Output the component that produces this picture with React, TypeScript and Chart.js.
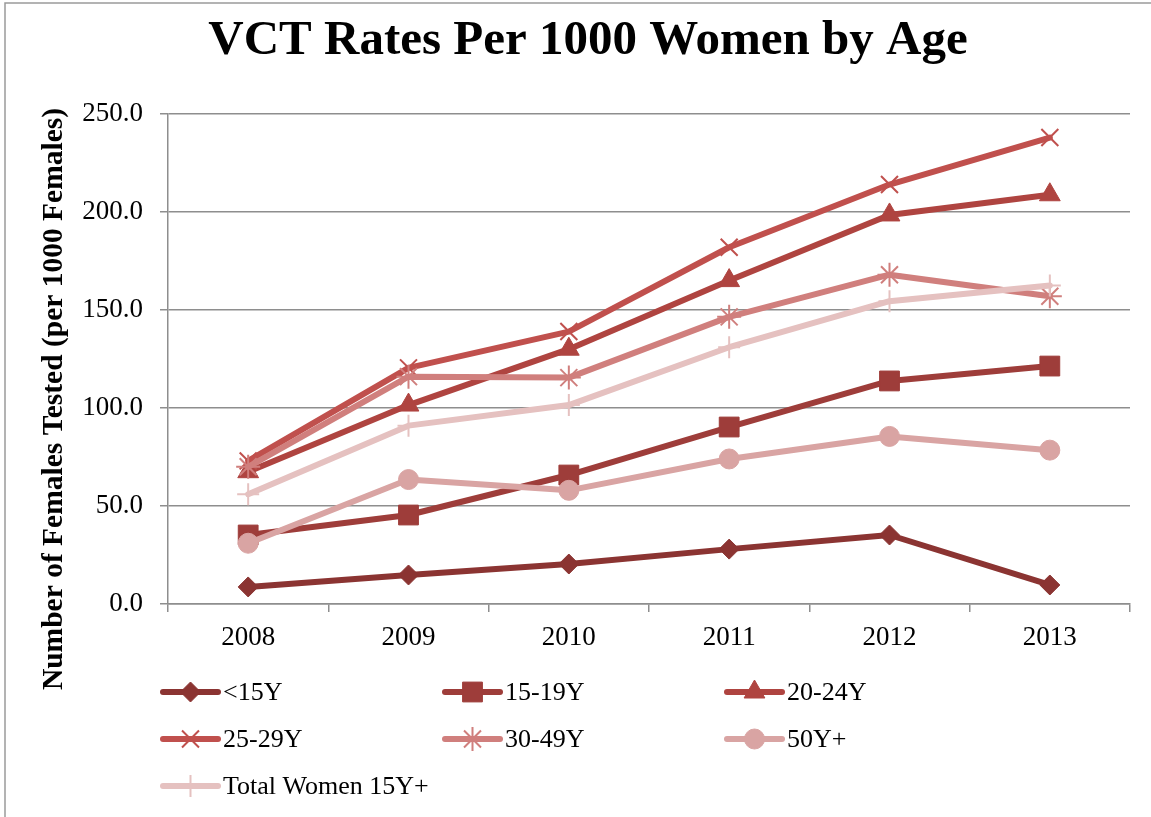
import React, { useEffect, useRef } from "react";
import { Chart, registerables } from "chart.js";
import { drawPoint } from "chart.js/helpers";

Chart.register(...registerables);

const years = ["2008", "2009", "2010", "2011", "2012", "2013"];
const under15 = [8.7, 14.8, 20.4, 28.0, 35.2, 9.7];
const age15to19 = [35.2, 45.4, 65.8, 90.3, 113.8, 121.4];
const age20to24 = [67.5, 101.5, 130.0, 165.0, 198.5, 208.8];
const age25to29 = [73.0, 120.5, 139.0, 182.0, 214.0, 238.0];
const age30to49 = [70.0, 116.0, 115.5, 146.5, 168.0, 157.0];
const age50plus = [31.0, 63.5, 58.0, 74.0, 85.5, 78.5];
const totalWomen = [56.0, 91.0, 101.5, 131.0, 154.5, 162.5];
const seriesLabels = ["<15Y", "15-19Y", "20-24Y", "25-29Y", "30-49Y", "50Y+", "Total Women 15Y+"];
const yTicks = [0, 50, 100, 150, 200, 250];

const colors = ["#8B3432", "#9E3D3A", "#AF4440", "#C0504D", "#D07F7D", "#D9A4A3", "#E5C1C0"];
const styles = ["rectRot", "rect", "triangle", "crossRot", "star", "circle", "cross"];
const radii = [10, 14, 12, 12, 12, 10, 11];

const SERIF = '"Liberation Serif", "Times New Roman", serif';

const decorPlugin = {
  id: "decor",
  afterDraw(chart: any) {
    const ctx = chart.ctx;
    ctx.save();
    // outer frame
    ctx.strokeStyle = "#9a9a9a";
    ctx.lineWidth = 1.5;
    ctx.beginPath();
    ctx.moveTo(5, 817);
    ctx.lineTo(5, 3);
    ctx.lineTo(1151, 3);
    ctx.stroke();
    // title
    ctx.fillStyle = "#000";
    ctx.font = `bold 49px ${SERIF}`;
    ctx.textAlign = "center";
    ctx.textBaseline = "alphabetic";
    ctx.fillText("VCT Rates Per 1000 Women by Age", 588, 54);
    // y-axis title
    ctx.save();
    ctx.translate(54, 399);
    ctx.rotate(-Math.PI / 2);
    ctx.font = `bold 29.5px ${SERIF}`;
    ctx.textAlign = "center";
    ctx.textBaseline = "middle";
    ctx.fillText("Number of Females Tested (per 1000 Females)", 0, 0);
    ctx.restore();
    // legend
    const colX = [163, 445, 727];
    const rowY = [692, 739, 786];
    chart.data.datasets.forEach((ds: any, i: number) => {
      const col = i % 3;
      const row = Math.floor(i / 3);
      const x0 = colX[col];
      const y = rowY[row];
      ctx.strokeStyle = ds.borderColor;
      ctx.lineWidth = 6;
      ctx.lineCap = "round";
      ctx.beginPath();
      ctx.moveTo(x0, y);
      ctx.lineTo(x0 + 55, y);
      ctx.stroke();
      ctx.lineCap = "butt";
      ctx.fillStyle = ds.pointBackgroundColor;
      ctx.strokeStyle = ds.pointBorderColor;
      ctx.lineWidth = ds.pointBorderWidth;
      drawPoint(ctx, { pointStyle: ds.pointStyle, rotation: 0, radius: ds.pointRadius, borderWidth: ds.pointBorderWidth }, x0 + 27.5, y);
      ctx.fillStyle = "#000";
      ctx.font = `26px ${SERIF}`;
      ctx.textAlign = "left";
      ctx.textBaseline = "middle";
      ctx.fillText(ds.label, x0 + 60, y + 1);
    });
    ctx.restore();
  },
};

export default function App() {
  const ref = useRef<HTMLCanvasElement | null>(null);
  useEffect(() => {
    document.body.style.margin = "0";
    const seriesData = [under15, age15to19, age20to24, age25to29, age30to49, age50plus, totalWomen];
    const datasets = seriesData.map((d, i) => {
      const isStroke = styles[i] === "crossRot" || styles[i] === "star" || styles[i] === "cross";
      return {
        label: seriesLabels[i],
        data: d,
        borderColor: colors[i],
        backgroundColor: colors[i],
        borderWidth: 6,
        borderCapStyle: "round",
        borderJoinStyle: "round",
        pointStyle: styles[i],
        pointRadius: radii[i],
        pointBackgroundColor: colors[i],
        pointBorderColor: colors[i],
        pointBorderWidth: isStroke ? 2 : 1,
        order: 7 - i,
        tension: 0,
      };
    });
    const chart = new Chart(ref.current as HTMLCanvasElement, {
      type: "line",
      data: { labels: years, datasets: datasets as any },
      options: {
        responsive: false,
        animation: false,
        events: [],
        layout: { padding: { left: 0, right: 21, top: 114, bottom: 153 } },
        plugins: { legend: { display: false }, title: { display: false }, tooltip: { enabled: false } },
        scales: {
          x: {
            offset: true,
            grid: { offset: true, drawOnChartArea: false, drawTicks: true, tickLength: 8, color: "#8e8e8e", lineWidth: 1.5 },
            border: { display: true, color: "#8e8e8e", width: 1.5 },
            ticks: { color: "#000", font: { family: SERIF, size: 27 }, padding: 10, maxRotation: 0 },
            afterFit: (s: any) => { s.height = 60; },
          },
          y: {
            min: 0,
            max: 250,
            afterBuildTicks: (s: any) => { s.ticks = yTicks.map((v) => ({ value: v })); },
            grid: { color: "#8e8e8e", lineWidth: 1.5, tickLength: 8 },
            border: { display: true, color: "#8e8e8e", width: 1.5 },
            ticks: { color: "#000", font: { family: SERIF, size: 27 }, padding: 17, callback: (v: any) => Number(v).toFixed(1) },
            afterFit: (s: any) => { s.width = 168; },
          },
        },
      },
      plugins: [decorPlugin],
    });
    return () => chart.destroy();
  }, []);
  return (
    <div style={{ width: 1151, height: 817 }}>
      <canvas ref={ref} width={1151} height={817} style={{ display: "block" }} />
    </div>
  );
}
